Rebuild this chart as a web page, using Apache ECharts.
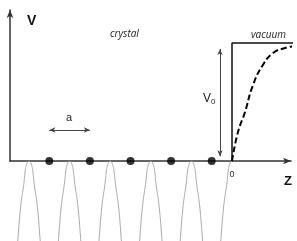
<!DOCTYPE html>
<html>
<head>
<meta charset="utf-8">
<script src="https://cdn.jsdelivr.net/npm/echarts@6/dist/echarts.min.js"></script>
<style>
  html, body { margin: 0; padding: 0; background: #fff; }
  #chart { width: 297px; height: 241px; }
</style>
</head>
<body>
<div id="chart"></div>
<script>
// z in units of lattice constant a, V in units of V0
const atoms = [-4.5, -3.5, -2.5, -1.5, -0.5]
const archPeaks = [-5, -4, -3, -2, -1]
const surfacePeak = 0
// one arch of the crystal potential, [dz, V]
const archProfile = [[0, 0], [0.025, -0.006], [0.045, -0.018], [0.065, -0.036], [0.09, -0.075], [0.13, -0.2], [0.2, -0.37], [0.27, -0.65], [0.29, -0.76]]
// smooth surface barrier (dashed)
const barrierZ = [0, 0.148, 0.32, 0.517, 0.76, 1.01, 1.31, 1.56]
const barrierV = [0, 0.246, 0.415, 0.644, 0.814, 0.915, 0.958, 0.975]
// step barrier
const stepZ = [0, 0, 1.62]
const stepV = [0, 1, 1]
const xTicks = [0]

const zMin = -5.468, zMax = 1.453

let chart = echarts.init(document.getElementById('chart'))

let series = []
archPeaks.forEach(function (p) {
  let left = archProfile.slice().reverse().map(function (d) { return [p - d[0], d[1]] })
  let right = archProfile.slice(1).map(function (d) { return [p + d[0], d[1]] })
  series.push({
    type: 'line', xAxisIndex: 1, yAxisIndex: 1, smooth: true, symbol: 'none',
    lineStyle: { color: '#aaa', width: 1 },
    data: left.concat(right)
  })
})
series.push({
  type: 'line', xAxisIndex: 1, yAxisIndex: 1, smooth: true, symbol: 'none',
  lineStyle: { color: '#aaa', width: 1 },
  data: archProfile.slice().reverse().map(function (d) { return [surfacePeak - d[0], d[1]] })
})
series.push({
  type: 'line', xAxisIndex: 0, yAxisIndex: 0, symbol: 'none', clip: false,
  lineStyle: { color: '#111', width: 1.5 },
  data: stepZ.map(function (z, i) { return [z, stepV[i]] })
})
series.push({
  type: 'line', xAxisIndex: 0, yAxisIndex: 0, smooth: true, symbol: 'none', clip: false,
  lineStyle: { color: '#000', width: 2, type: [6, 3] },
  data: barrierZ.map(function (z, i) { return [z, barrierV[i]] }),
  markLine: {
    silent: true,
    symbol: ['arrow', 'arrow'],
    symbolSize: [4, 6],
    label: { show: false },
    lineStyle: { color: '#444', width: 1, type: 'solid' },
    data: [
      [{ coord: [-0.296, 0.04] }, { coord: [-0.296, 0.95] }],
      [{ coord: [-4.5, 0.263] }, { coord: [-3.5, 0.263] }]
    ]
  }
})
series.push({
  type: 'scatter', xAxisIndex: 0, yAxisIndex: 0, clip: false,
  symbolSize: 8, itemStyle: { color: '#000' }, z: 5,
  data: atoms.map(function (z) { return [z, 0] })
})

let option = {
  animation: false,
  backgroundColor: '#fff',
  grid: [
    { left: 10, right: 6, top: 10, height: 151 },
    { left: 10, right: 6, top: 161, height: 80 }
  ],
  xAxis: [
    {
      type: 'value', gridIndex: 0, min: zMin, max: zMax,
      axisLine: { show: true, onZero: false, symbol: ['none', 'arrow'], symbolSize: [5, 8], lineStyle: { color: '#333', width: 1.5 } },
      axisTick: { show: false },
      splitLine: { show: false },
      axisLabel: { customValues: xTicks, color: '#333', fontSize: 9, margin: 9, fontFamily: 'Liberation Sans' }
    },
    {
      type: 'value', gridIndex: 1, min: zMin, max: zMax, show: false
    }
  ],
  yAxis: [
    {
      type: 'value', gridIndex: 0, min: 0, max: 1.28,
      axisLine: { show: true, onZero: false, symbol: ['none', 'arrow'], symbolSize: [5, 8], lineStyle: { color: '#333', width: 1.5 } },
      axisTick: { show: false },
      splitLine: { show: false },
      axisLabel: { show: false }
    },
    {
      type: 'value', gridIndex: 1, min: -0.68, max: 0, show: false
    }
  ],
  graphic: [
    { type: 'text', left: 27, top: 14, style: { text: 'V', font: 'bold 14px "Liberation Sans"', fill: '#111' } },
    { type: 'text', left: 110, top: 29, style: { text: 'crystal', font: 'italic 10px "Open Sans"', fill: '#222' } },
    { type: 'text', left: 251, top: 30, style: { text: 'vacuum', font: 'italic 10px "Open Sans"', fill: '#222' } },
    { type: 'text', left: 66, top: 112, style: { text: 'a', font: '11px "Liberation Sans"', fill: '#222' } },
    { type: 'text', left: 203, top: 93, style: { text: '{v|V}{s|0}', rich: { v: { font: '12px "Liberation Sans"', fill: '#222' }, s: { font: '8px "Liberation Sans"', fill: '#222', padding: [6, 0, 0, 0] } } } },
    { type: 'text', left: 284, top: 175, style: { text: 'Z', font: 'bold 13px "Liberation Sans"', fill: '#111' } }
  ],
  series: series
}

chart.setOption(option)
</script>
</body>
</html>
